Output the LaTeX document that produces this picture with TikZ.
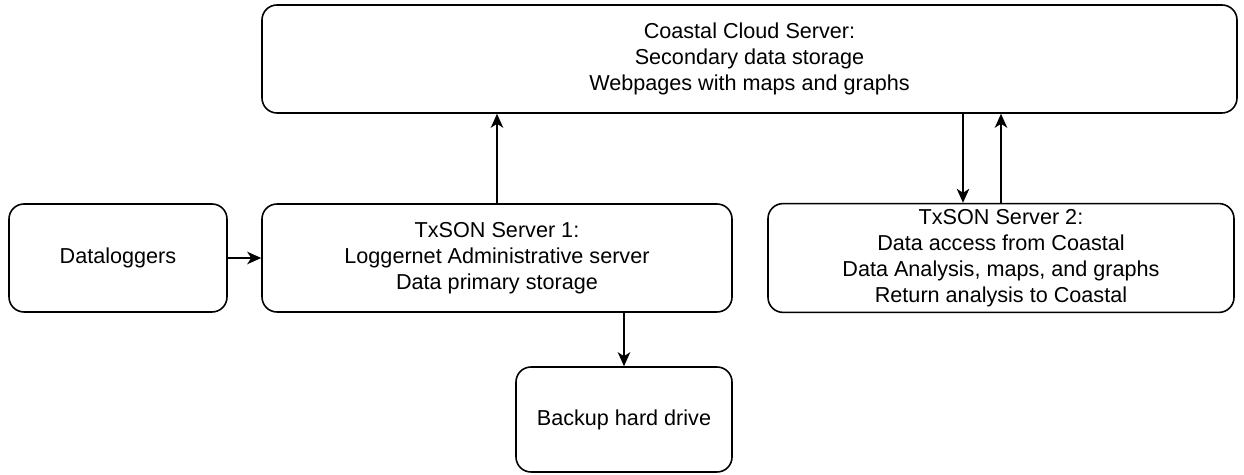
\documentclass[tikz,border=0pt]{standalone}
\usepackage{fontspec}
\setmainfont{Liberation Sans}
\usetikzlibrary{arrows.meta}

\tikzset{
    box/.style={draw, line width=0.9pt, rounded corners=0.3cm, align=center,
        font=\fontsize{12.3pt}{14.7pt}\selectfont},
    flow/.style={-{Stealth[length=2.8mm, width=2.5mm, inset=0.8mm]}, line width=0.9pt}
}

\begin{document}
\begin{tikzpicture}
            % page frame
            \useasboundingbox (0,0) rectangle (24.88,9.5);
            % define box centres
            \coordinate (C)  at (14.99, 8.32);
            \coordinate (L)  at (2.36, 4.34);
            \coordinate (S1) at (9.94, 4.34);
            \coordinate (S2) at (20.02, 4.34);
            \coordinate (B)  at (12.48, 1.11);
            % boxes
            \node[box, minimum width=19.5cm, minimum height=2.16cm] (cloud) at (C)
                {Coastal Cloud Server:\\Secondary data storage\\Webpages with maps and graphs};
            \node[box, minimum width=4.36cm, minimum height=2.16cm] (logger) at (L) {Dataloggers};
            \node[box, minimum width=9.4cm, minimum height=2.16cm] (srvone) at (S1)
                {TxSON Server 1:\\Loggernet Administrative server\\Data primary storage};
            \node[box, minimum width=9.32cm, minimum height=2.16cm] (srvtwo) at (S2)
                {TxSON Server 2:\\Data access from Coastal\\Data Analysis, maps, and graphs\\Return analysis to Coastal};
            \node[box, minimum width=4.32cm, minimum height=2.1cm] (backup) at (B) {Backup hard drive};
            % arrows
            \draw[flow] (logger) -- (srvone);
            \draw[flow] (srvone) -- (srvone |- cloud.south);
            \draw[flow] (backup |- srvone.south) -- (backup);
            \draw[flow] ([xshift=-0.76cm]srvtwo.north |- cloud.south) -- ([xshift=-0.76cm]srvtwo.north);
            \draw[flow] (srvtwo) -- (srvtwo |- cloud.south);
            %\draw[flow] (srvtwo.north) -- (cloud);
\end{tikzpicture}
\end{document}
